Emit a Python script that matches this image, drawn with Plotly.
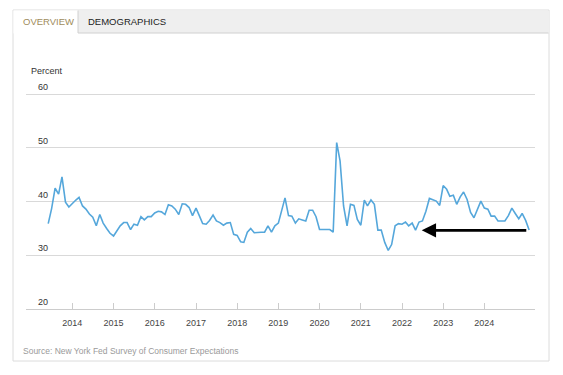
import pandas as pd
import plotly.graph_objects as go

# ---- data ----
series_start = "2013-06-01"
values = [
    35.9, 38.7, 42.5, 41.4, 44.6, 39.9, 39.0, 39.7, 40.3, 40.8,
    39.2, 38.6, 37.7, 37.1, 35.5, 37.6, 36.0, 35.0, 34.1, 33.6,
    34.6, 35.5, 36.1, 36.1, 34.8, 35.8, 35.6, 37.2, 36.6, 37.2,
    37.2, 37.9, 38.2, 38.1, 37.6, 39.4, 39.2, 38.6, 37.6, 39.6,
    39.5, 38.9, 37.4, 38.8, 37.3, 35.9, 35.8, 36.5, 37.5, 36.4,
    36.1, 35.6, 36.0, 36.1, 33.9, 33.7, 32.5, 32.4, 34.3, 35.0,
    34.2, 34.3, 34.3, 34.3, 35.5, 34.3, 35.5, 36.0, 38.6, 40.7,
    37.4, 37.3, 36.0,
    36.8, 36.6, 36.4, 38.4, 38.4, 37.2, 34.8, 34.8, 34.8, 34.8,
    34.3, 51.0, 47.6, 39.2, 35.5, 39.5, 39.3, 36.7, 35.6, 40.3,
    39.2, 40.3, 39.5, 34.7, 34.7, 32.4, 30.9, 32.0, 35.5, 35.9,
    35.8, 36.2, 35.5, 36.0, 34.7, 36.2, 36.4, 38.2, 40.6, 40.4,
    40.1, 39.3, 43.0, 42.3, 41.0, 41.2, 39.5, 40.9, 41.8, 40.4,
    38.0, 37.0, 38.6, 40.1, 38.8, 38.6, 37.3, 37.3, 36.4, 36.4,
    36.4, 37.4, 38.8, 37.8, 36.8, 37.8, 36.5, 34.7,
]
dates = pd.date_range(series_start, periods=len(values), freq="MS")

year_labels = [str(y) for y in range(2014, 2025)]
year_ticks = [f"{y}-01-01" for y in range(2014, 2025)]
y_ticks = [20, 30, 40, 50, 60]

tabs = ["OVERVIEW", "DEMOGRAPHICS"]
source_text = "Source: New York Fed Survey of Consumer Expectations"
unit_label = "Percent"

arrow_tip = ("2022-06-25", 34.65)
arrow_tail = ("2025-01-20", 34.65)

# ---- figure ----
W, H = 563, 375
L, R, T, B = 26, 28, 93, 66
pw, ph = W - L - R, H - T - B


def px(xp):
    return (xp - L) / pw


def py(yp):
    return (H - B - yp) / ph


FONT = "Liberation Sans, Arial, sans-serif"

fig = go.Figure()
fig.add_trace(go.Scatter(
    x=dates, y=values, mode="lines",
    line=dict(color="#55a7db", width=1.6),
    hoverinfo="x+y", showlegend=False,
))

shapes = [
    # outer panel
    dict(type="rect", xref="paper", yref="paper", x0=px(13), x1=px(549), y0=py(361), y1=py(10),
         line=dict(color="#dcdcdc", width=1), fillcolor="rgba(0,0,0,0)", layer="below"),
    # tab bar
    dict(type="rect", xref="paper", yref="paper", x0=px(13.5), x1=px(548.5), y0=py(33), y1=py(10.5),
         line=dict(width=0), fillcolor="#efefef", layer="below"),
    # active tab
    dict(type="rect", xref="paper", yref="paper", x0=px(13.5), x1=px(78), y0=py(33.5), y1=py(10.5),
         line=dict(width=0), fillcolor="#ffffff", layer="below"),
    dict(type="line", xref="paper", yref="paper", x0=px(78), x1=px(548.5), y0=py(33), y1=py(33),
         line=dict(color="#d0d0d0", width=1)),
    dict(type="line", xref="paper", yref="paper", x0=px(78), x1=px(78), y0=py(33), y1=py(10.5),
         line=dict(color="#d0d0d0", width=1)),
]

annotations = [
    dict(xref="paper", yref="paper", x=px(21), y=py(21), text=tabs[0], showarrow=False,
         xanchor="left", yanchor="middle", font=dict(family=FONT, size=9.5, color="#a08c5c")),
    dict(xref="paper", yref="paper", x=px(86), y=py(21), text=tabs[1], showarrow=False,
         xanchor="left", yanchor="middle", font=dict(family=FONT, size=9.5, color="#222222")),
    dict(xref="paper", yref="paper", x=px(29), y=py(71), text=unit_label, showarrow=False,
         xanchor="left", yanchor="middle", font=dict(family=FONT, size=9, color="#333333")),
    dict(xref="paper", yref="paper", x=px(21), y=py(351), text=source_text, showarrow=False,
         xanchor="left", yanchor="middle", font=dict(family=FONT, size=8.5, color="#9a9a9a")),
    dict(x=arrow_tip[0], y=arrow_tip[1], ax=arrow_tail[0], ay=arrow_tail[1],
         xref="x", yref="y", axref="x", ayref="y", text="", showarrow=True,
         arrowhead=2, arrowsize=1.1, arrowwidth=2.6, arrowcolor="#000000"),
]

fig.update_layout(
    width=W, height=H,
    margin=dict(l=L, r=R, t=T, b=B, pad=0),
    paper_bgcolor="white", plot_bgcolor="white",
    font=dict(family=FONT, size=9, color="#333333"),
    showlegend=False,
    shapes=shapes,
    annotations=annotations,
    xaxis=dict(
        type="date",
        range=["2012-11-16", "2025-03-25"],
        tickvals=year_ticks, ticktext=year_labels,
        ticks="inside", ticklen=6, tickcolor="#cccccc", tickwidth=1,
        showgrid=False, zeroline=False,
        showline=True, linecolor="#cccccc", linewidth=1,
        tickfont=dict(family=FONT, size=9, color="#444444"),
        ticklabelstandoff=5,
    ),
    yaxis=dict(
        range=[19.99, 60.25], tickvals=y_ticks,
        showgrid=True, gridcolor="#d9d9d9", gridwidth=1,
        zeroline=False, showline=False, ticks="",
        ticklabelposition="inside", ticklabelstandoff=9, ticklabelshift=-7,
        ticklabeloverflow="allow",
        tickfont=dict(family=FONT, size=9, color="#333333"),
    ),
)

fig.write_html("out.html", config={"displayModeBar": False},
               post_script="document.body.style.margin='0';")
